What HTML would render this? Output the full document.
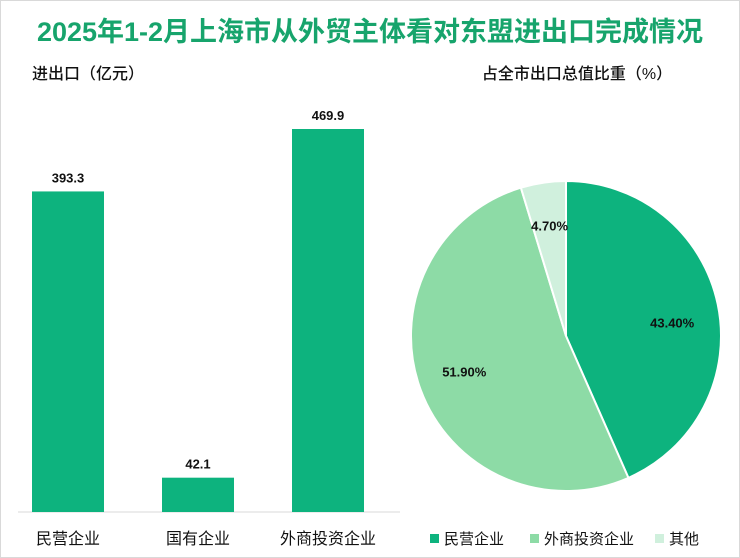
<!DOCTYPE html>
<html><head><meta charset="utf-8"><style>
body{margin:0;width:740px;height:558px;background:#fff;overflow:hidden;font-family:"Liberation Sans","Noto Sans CJK SC",sans-serif;}
#frame{position:absolute;left:0;top:0;width:738px;height:556px;border:1px solid #d9d9d9;}
</style></head><body>
<div id="frame"></div>
<svg id="svg" width="740" height="558" style="position:absolute;left:0;top:0">
<text x="370" y="41" text-anchor="middle" font-size="27" font-weight="bold" fill="#17a46c">2025年1-2月上海市从外贸主体看对东盟进出口完成情况</text>
<text x="32" y="79" font-size="16" font-weight="500" fill="#111">进出口（亿元）</text>
<text x="577" y="79" text-anchor="middle" font-size="16" font-weight="500" fill="#111">占全市出口总值比重（%）</text>
<line x1="18" y1="512" x2="400" y2="512" stroke="#d9d9d9"/>
<g id="bars"></g><g id="pie"></g><g id="legend"></g>
</svg>
<script>
const categories=["民营企业","国有企业","外商投资企业"];
const barValues=[393.3,42.1,469.9];
const pieLabels=["民营企业","外商投资企业","其他"];
const pieValues=[43.4,51.9,4.7];
const pieColors=["#0db37e","#8ddba6","#d0f0dd"];
const NS="http://www.w3.org/2000/svg";
function mk(tag,attrs,parent){const e=document.createElementNS(NS,tag);for(const k in attrs)e.setAttribute(k,attrs[k]);parent.appendChild(e);return e;}
const base=512, scale=383/469.9;
const y=v=>base-v*scale;
const xc=i=>68+i*130;
const bars=document.getElementById('bars');
categories.forEach((c,i)=>{
 const r=mk('rect',{x:xc(i)-36,y:y(barValues[i]),width:72,height:base-y(barValues[i]),fill:"#0db37e"},bars);
 
 
 const t=mk('text',{x:xc(i),y:y(barValues[i])-9,'text-anchor':'middle','font-size':13,'font-weight':'bold',fill:'#111'},bars);
 t.textContent=barValues[i].toFixed(1);
 
 
 const l=mk('text',{x:xc(i),y:544,'text-anchor':'middle','font-size':16,fill:'#111'},bars);
 l.textContent=c;
 
 
});
const pie=document.getElementById('pie');
const cx=566,cy=336,R=155;
const total=pieValues.reduce((a,b)=>a+b,0);
let a0=-Math.PI/2;
const labelR=[0.7,0.7,0.72];
const labelDy=[14,3,5];
pieValues.forEach((v,i)=>{
 const a1=a0+v/total*2*Math.PI;
 const x0=cx+R*Math.cos(a0),y0=cy+R*Math.sin(a0),x1=cx+R*Math.cos(a1),y1=cy+R*Math.sin(a1);
 const large=(a1-a0)>Math.PI?1:0;
 const p=mk('path',{d:`M${cx},${cy}L${x0},${y0}A${R},${R} 0 ${large} 1 ${x1},${y1}Z`,fill:pieColors[i],stroke:'#fff','stroke-width':2},pie);
 
 
 const am=(a0+a1)/2,rr=R*labelR[i];
 const t=mk('text',{x:cx+rr*Math.cos(am),y:cy+rr*Math.sin(am)+labelDy[i],'text-anchor':'middle','font-size':13,'font-weight':'bold',fill:'#111'},pie);
 t.textContent=v.toFixed(2)+'%';
 
 
 a0=a1;
});
const leg=document.getElementById('legend');
const lx=[430,530,655];
pieLabels.forEach((n,i)=>{
 const g=mk('g',{},leg);
 
 
 mk('rect',{x:lx[i],y:534,width:9,height:9,fill:pieColors[i]},g);
 const t=mk('text',{x:lx[i]+14,y:544,'font-size':15,fill:'#111'},g);
 t.textContent=n;
});
</script>
</body></html>
